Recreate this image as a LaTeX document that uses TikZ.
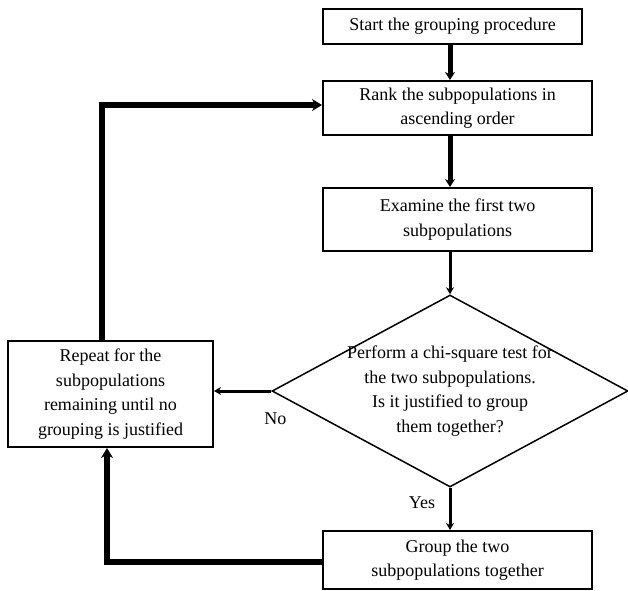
\documentclass[tikz,border=0pt]{standalone}
\usepackage{fontspec}
\setmainfont{Liberation Serif}
\usetikzlibrary{arrows.meta, positioning, shapes.geometric}

\begin{document}
\begin{tikzpicture}[x=1pt, y=1pt,
  box/.style={draw, line width=2pt, align=center, inner sep=0pt, font=\fontsize{18}{24.5}\selectfont},
  flow/.style={-{Stealth[length=8pt, width=10pt]}, line width=5pt},
  thinflow/.style={-{Stealth[length=7pt, width=8pt]}, line width=3pt},
  loopback/.style={-{Stealth[length=10pt, width=12pt]}, line width=6.5pt}]
\useasboundingbox (0,0) rectangle (628,-590);

\node (start) [box, minimum width=259pt, minimum height=35pt] at (452.5,-26.5)
{Start the grouping procedure};
\node (rank) [box, minimum width=269pt, minimum height=54pt] at (457.5,-108)
{Rank the subpopulations in\\ascending order};
\node (examine) [box, minimum width=269pt, minimum height=63pt] at (457.5,-219.5)
{Examine the first two\\subpopulations};
\node (test) [box, shape=diamond, line width=1.5pt, aspect=1.854, inner ysep=-10pt,
  minimum width=356pt, minimum height=192pt] at (450,-391)
{Perform a chi-square test for\\the two subpopulations.\\Is it justified to group\\them together?};
\node (repeat) [box, minimum width=205pt, minimum height=106pt] at (110.5,-394)
{Repeat for the\\subpopulations\\remaining until no\\grouping is justified};
\node (group) [box, minimum width=269pt, minimum height=58pt] at (457.5,-560)
{Group the two\\subpopulations together};

\coordinate (upturn) at (102,-105);
\coordinate (downturn) at (107,-562);

\draw[flow] (start.south -| test.north) -- (rank.north -| test.north);
\draw[flow] (rank.south -| test.north) -- (examine.north -| test.north);
\draw[thinflow] (examine.south -| test.north) -- (test.north);
\draw[thinflow] (test.west) -- (test.west -| repeat.east)
  node[at start, anchor=north, xshift=4pt, yshift=-17pt, font=\fontsize{18}{24.5}\selectfont] {No};
\draw[thinflow] (test.south) -- (test.south |- group.north)
  node[midway, left=10pt, yshift=6pt, font=\fontsize{18}{24.5}\selectfont] {Yes};
\draw[loopback] (repeat.north -| upturn) -- (upturn) -- (upturn -| rank.west);
\draw[loopback] (group.west |- downturn) -- (downturn) -- (downturn |- repeat.south);
\end{tikzpicture}
\end{document}
